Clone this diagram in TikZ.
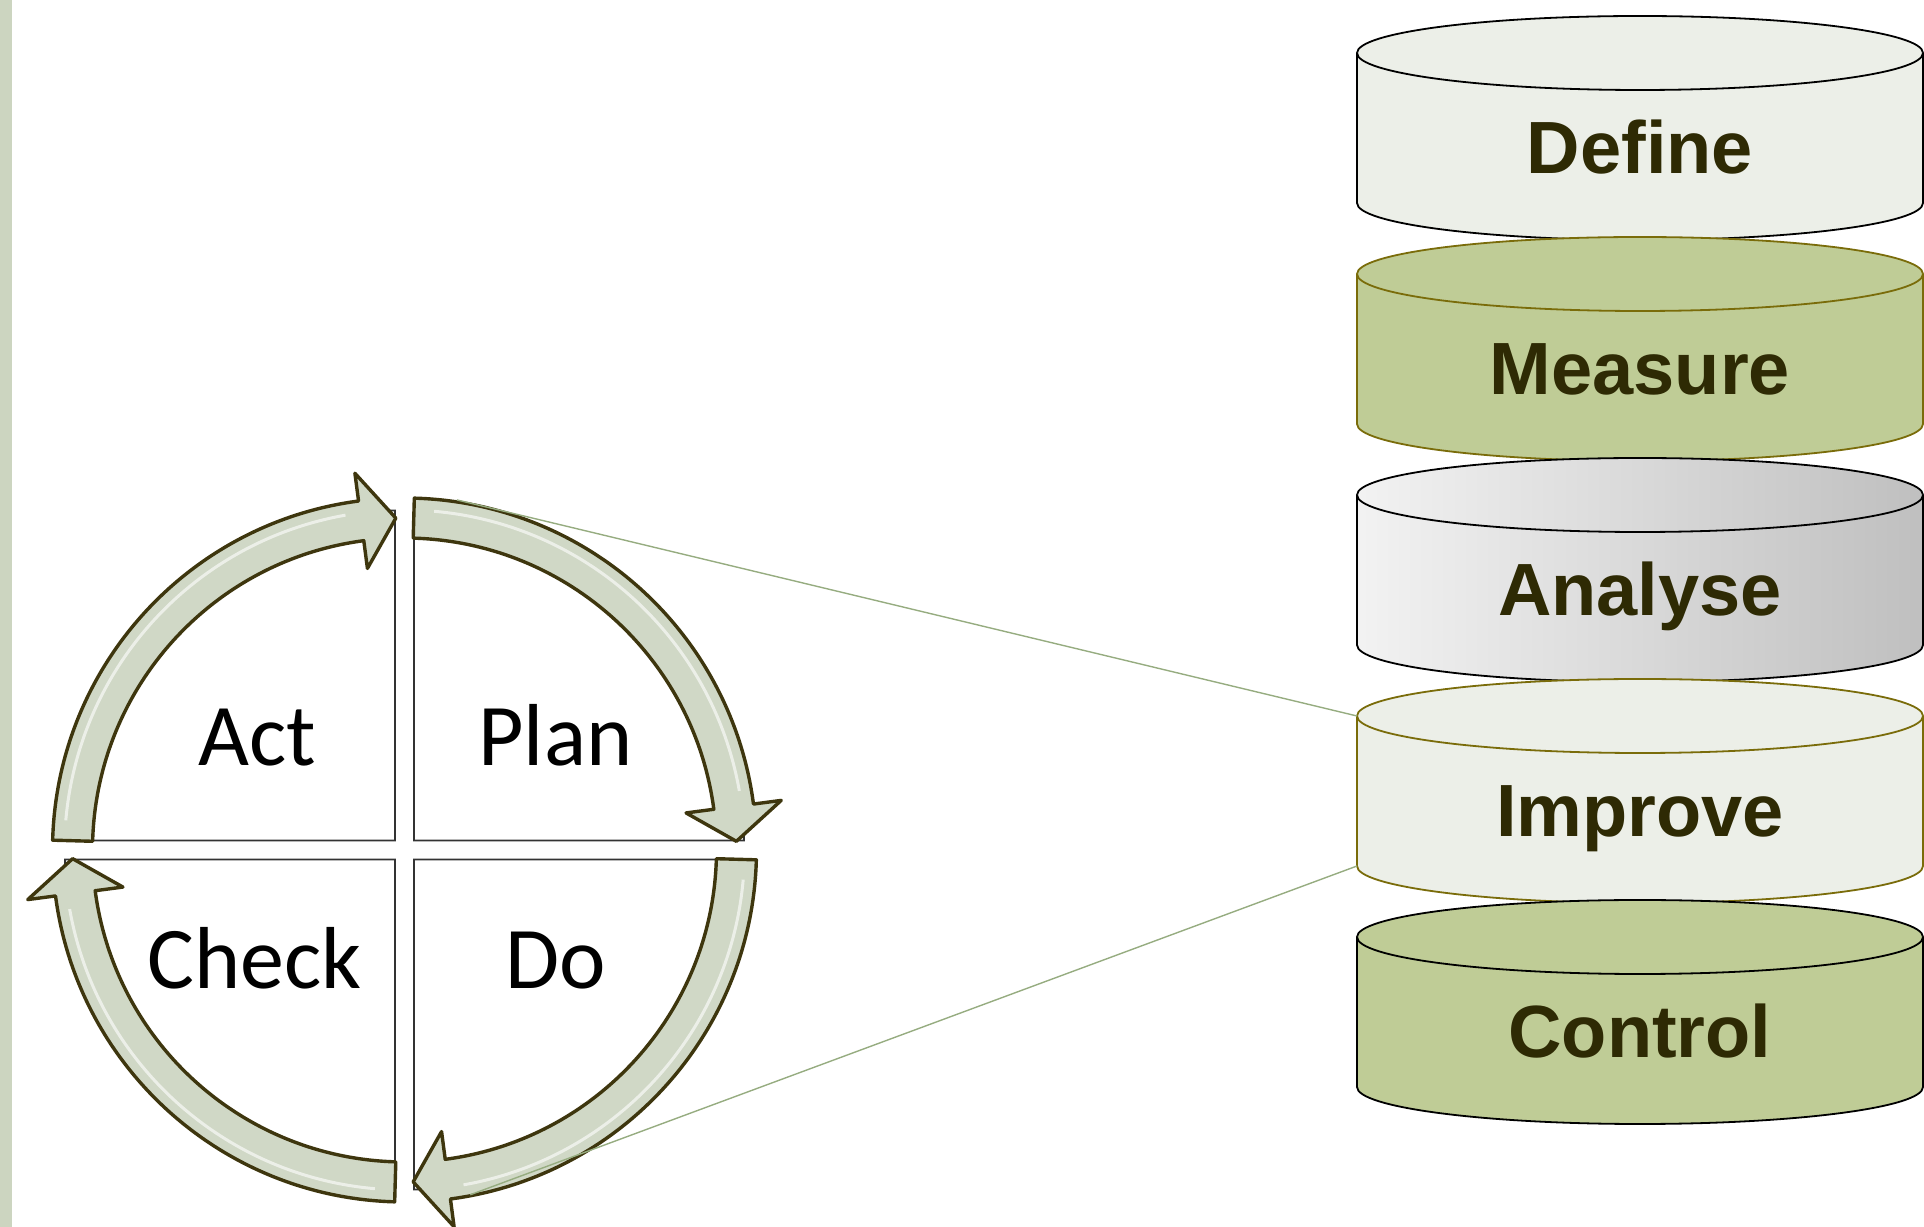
\documentclass[tikz,border=0pt]{standalone}
\usepackage{fontspec}
\setmainfont{Liberation Sans}
\newfontfamily\carlito{Carlito}
\definecolor{sidebar}{RGB}{204,213,192}
\definecolor{loopfill}{RGB}{208,216,198}
\definecolor{loopline}{RGB}{62,54,14}
\definecolor{palefill}{RGB}{236,239,232}
\definecolor{sagefill}{RGB}{191,204,150}
\definecolor{drumline}{RGB}{122,108,10}
\definecolor{stagetext}{RGB}{46,42,4}
\definecolor{linkgreen}{RGB}{150,172,128}
\begin{document}
\begin{tikzpicture}[x=0.5pt, y=0.5pt,
    quad/.style = {draw=black!80, line width=0.9pt, fill=white},
    loop/.style = {draw=loopline, line width=1.7pt, fill=loopfill, line join=round},
    gleam/.style = {draw=white, line width=1.5pt, opacity=0.6},
    word/.style = {font=\carlito\fontsize{44}{52}\selectfont, anchor=base},
    drumpale/.style = {draw=black, line width=0.9pt, fill=palefill},
    drumpaleol/.style = {draw=drumline, line width=0.9pt, fill=palefill},
    drumsage/.style = {draw=drumline, line width=0.9pt, fill=sagefill},
    drumsageblk/.style = {draw=black, line width=0.9pt, fill=sagefill},
    drumgrey/.style = {draw=black, line width=0.9pt, left color=black!5, right color=black!25},
    stage/.style = {font=\bfseries\fontsize{37}{44}\selectfont, text=stagetext, anchor=base},
    link/.style = {draw=linkgreen, line width=0.7pt}]
  \useasboundingbox (0,0) rectangle (1924,1227);
  \fill[sidebar] (0,0) rectangle (12,1227);

  % PDCA wheel
  \begin{scope}[shift={(404.5,377)}]
    \foreach \s in {0,90,180,270}
      \draw[quad] ({\s+45}:13.4) -- ++({\s}:330) arc[start angle=\s, end angle=\s+90, radius=330] -- cycle;
    \node[word] (plan) at (151,84) {Plan};
    \node[word] (act) at (-147,84) {Act};
    \node[word] (check) at (-150,-139) {Check};
    \node[word] (do) at (151,-139) {Do};
    \foreach \s in {0,90,180,270} {
      \draw[loop] ({\s+88.4}:352) arc[start angle=\s+88.4, end angle=\s+7.5, radius=352]
        -- ({\s+7.5}:380) -- ({\s+1.5}:332) -- ({\s+7.5}:284) -- ({\s+7.5}:312)
        arc[start angle=\s+7.5, end angle=\s+88.4, radius=312] -- cycle;
      \draw[gleam] ({\s+85}:340) arc[start angle=\s+85, end angle=\s+10, radius=340];
    }
    \coordinate (planrim) at (81.5:354);
    \coordinate (dorim) at (-79.2:351);
  \end{scope}

  % DMAIC stack
  \foreach \n/\i/\lab/\sty in {def/0/Define/drumpale, mea/1/Measure/drumsage,
      ana/2/Analyse/drumgrey, imp/3/Improve/drumpaleol, con/4/Control/drumsageblk} {
    \pgfmathsetmacro\ytop{1174-221*\i}
    \path[\sty] (1357,\ytop) -- (1357,\ytop-150)
      arc[start angle=180, end angle=360, x radius=283, y radius=37]
      -- (1923,\ytop) arc[start angle=0, end angle=180, x radius=283, y radius=37] -- cycle;
    \path[\sty] (1357,\ytop) arc[start angle=180, end angle=360, x radius=283, y radius=37];
    \node[stage] (\n) at (1640,\ytop-121) {\lab};
    \coordinate (\n-nw) at (1357,\ytop);
    \coordinate (\n-sw) at (1357,\ytop-150);
  }

  \draw[link] (imp-nw) -- (planrim);
  \draw[link] (imp-sw) -- (dorim);
\end{tikzpicture}
\end{document}
